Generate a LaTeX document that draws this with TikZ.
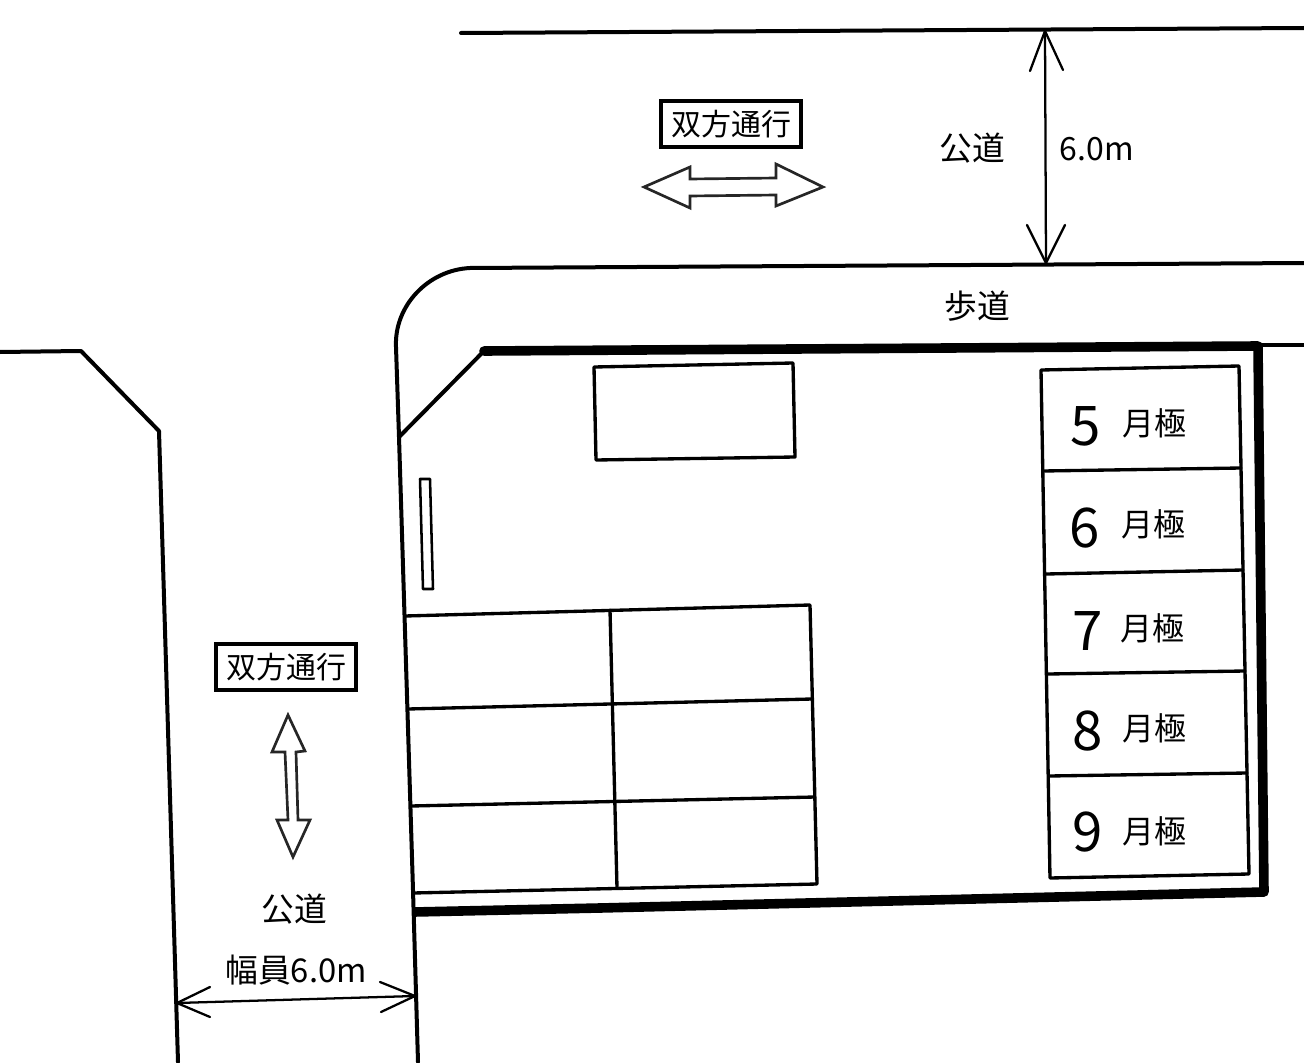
\documentclass[tikz,border=0pt]{standalone}
\usepackage{fontspec}
\setmainfont{Noto Sans CJK JP}
\tikzset{
  road/.style={line width=3pt,line cap=round,line join=round},
  wall/.style={line width=7.2pt,line cap=round,line join=round},
  grid line/.style={line width=2.5pt,line cap=round,line join=round},
  dim/.style={line width=1.7pt,line cap=round},
  hollow/.style={line width=2pt,line join=miter,draw=black!85},
  lab/.style={inner sep=0pt,font=\fontsize{24.6pt}{26pt}\selectfont},
  tagbox/.style={draw,line width=3.2pt,inner sep=0pt,minimum width=105pt,minimum height=35pt,font=\fontsize{22.5pt}{24pt}\selectfont},
  num/.style={inner sep=0pt,font=\fontsize{41pt}{43pt}\selectfont},
  gekkyoku/.style={inner sep=0pt,font=\fontsize{24pt}{26pt}\selectfont}
}
\begin{document}
\begin{tikzpicture}[x=0.75pt,y=-0.75pt]
\useasboundingbox (0,0) rectangle (1304,1063);
% roads
\draw[road] (461,33) -- (1304,28);
\draw[road] (1304,263) -- (470,268) .. controls (428,270) and (394,306) .. (396,347) -- (399,437) -- (413,890) -- (418,1062);
\draw[road] (0,352) -- (81,351) -- (159,431) -- (178,1062);
% corner cut
\draw[road] (399,437) -- (484,351);
% lot boundary
\draw[wall] (484,351) -- (1258,346) -- (1264,892) -- (600,908);
\draw[wall,line cap=butt] (600,908) -- (414,912);
\draw[road] (1258,345) -- (1304,345);
% building
\draw[grid line] (594,367) -- (793,363) -- (795,457) -- (596,460) -- cycle;
% narrow strip
\draw[line width=1.9pt,line join=round] (420,479) -- (430,479) -- (433,589) -- (423,589) -- cycle;
% parking block left
\draw[grid line] (405,616) -- (810,605) -- (817,884) -- (413,893);
\draw[grid line] (408,709) -- (812,699);
\draw[grid line] (411,806) -- (815,797);
\draw[grid line] (610,610) -- (617,888);
% monthly parking
\draw[grid line] (1041,370) -- (1239,366) -- (1249,874) -- (1050,878) -- cycle;
\draw[grid line] (1043,471) -- (1241,468);
\draw[grid line] (1046,574) -- (1243,570);
\draw[grid line] (1048,674) -- (1245,671);
\draw[grid line] (1049,776) -- (1247,773);
% labels
\node[tagbox] (tagA) at (731,124) {双方通行};
\node[tagbox] (tagB) at (286,667) {双方通行};
\node[lab] (roadA) at (972,148) {公道};
\node[lab,font=\fontsize{24pt}{26pt}\selectfont] (widthA) at (1097,149) {6.0m};
\node[lab] (walk) at (977,306) {歩道};
\node[lab] (roadB) at (294,909) {公道};
\node[lab] (widthB) at (296,970) {幅員6.0m};
\node[num] (n5) at (1086,426) {5};
\node[gekkyoku] (g5) at (1154,423) {月極};
\node[num] (n6) at (1085,528) {6};
\node[gekkyoku] (g6) at (1153,524) {月極};
\node[num] (n7) at (1088,631) {7};
\node[gekkyoku] (g7) at (1152,628) {月極};
\node[num] (n8) at (1088,731) {8};
\node[gekkyoku] (g8) at (1154,728) {月極};
\node[num] (n9) at (1088,832) {9};
\node[gekkyoku] (g9) at (1154,831) {月極};
% dimension top
\coordinate (dta) at (1045,31);
\coordinate (dtb) at (1046,263);
\draw[dim] (dta) -- (dtb);
\draw[dim] (1030,71) -- (dta) -- (1063,70);
\draw[dim] (1027,225) -- (dtb) -- (1065,225);
% dimension bottom
\coordinate (dba) at (177,1003);
\coordinate (dbb) at (415,996);
\draw[dim] (dba) -- (dbb);
\draw[dim] (210,987) -- (dba) -- (210,1017);
\draw[dim] (380,982) -- (dbb) -- (381,1012);
% hollow arrows
\draw[hollow] (644,187) -- (690,167) -- (690,179) -- (776,178) -- (776,164) -- (823,187) -- (776,206) -- (776,195) -- (690,196) -- (690,208) -- cycle;
\draw[hollow] (288,715) -- (305,751) -- (296,752) -- (298,820) -- (310,820) -- (293,857) -- (277,820) -- (288,820) -- (285,752) -- (272,752) -- cycle;
\end{tikzpicture}
\end{document}
